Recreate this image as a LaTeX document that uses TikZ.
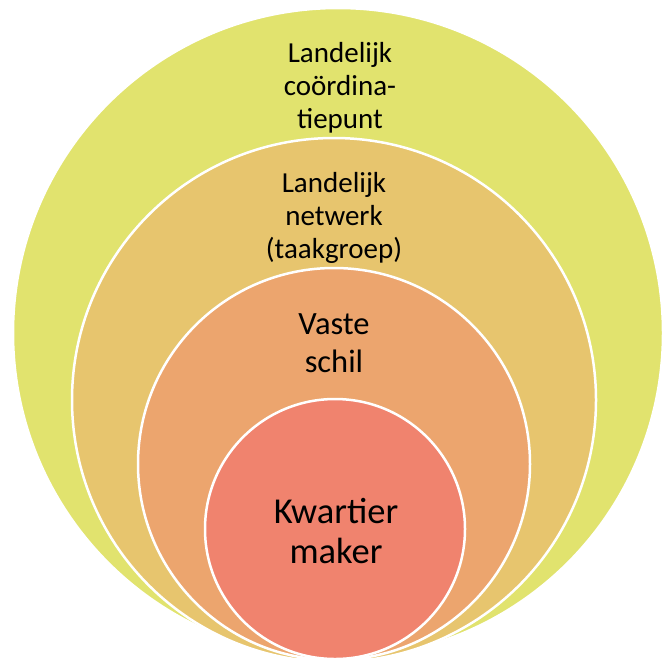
\documentclass[tikz,border=0pt]{standalone}
\usepackage{fontspec}
\setmainfont{Carlito}
\definecolor{clrCoord}{RGB}{225,227,110}
\definecolor{clrNetwerk}{RGB}{231,197,110}
\definecolor{clrSchil}{RGB}{236,165,110}
\definecolor{clrKwartier}{RGB}{240,131,110}
\begin{document}
\begin{tikzpicture}[x=1pt,y=1pt,yscale=-1,
  ring/.style={circle,draw=white,line width=2.5pt,inner sep=0pt},
  lbl/.style={align=center,inner sep=0pt,text=black}]
\useasboundingbox (0,0) rectangle (671,657);
\clip (0,0) rectangle (671,657);

%Shape: Circle [outer]
\node [ring,fill=clrCoord,minimum size=650pt] (coord) at (338,333) {};
%Shape: Circle
\node [ring,fill=clrNetwerk,minimum size=524pt] (netwerk) at (334,400) {};
%Shape: Circle
\node [ring,fill=clrSchil,minimum size=392pt] (schil) at (334,464) {};
%Shape: Circle [inner]
\node [ring,fill=clrKwartier,minimum size=260pt] (kwartier) at (335,529) {};

% Text Node
\node [lbl,font=\fontsize{29}{33}\selectfont] (coordtxt) at (340,88) {Landelijk\\coördina-\\tiepunt};
% Text Node
\node [lbl,font=\fontsize{29}{33}\selectfont] (netwerktxt) at (334,218) {Landelijk\\netwerk\\(taakgroep)};
% Text Node
\node [lbl,font=\fontsize{32.5}{38}\selectfont] (schiltxt) at (334,343) {Vaste\\schil};
% Text Node
\node [lbl,font=\fontsize{36.5}{40}\selectfont] (kwartiertxt) at (336,531) {Kwartier\\maker};

\end{tikzpicture}
\end{document}
